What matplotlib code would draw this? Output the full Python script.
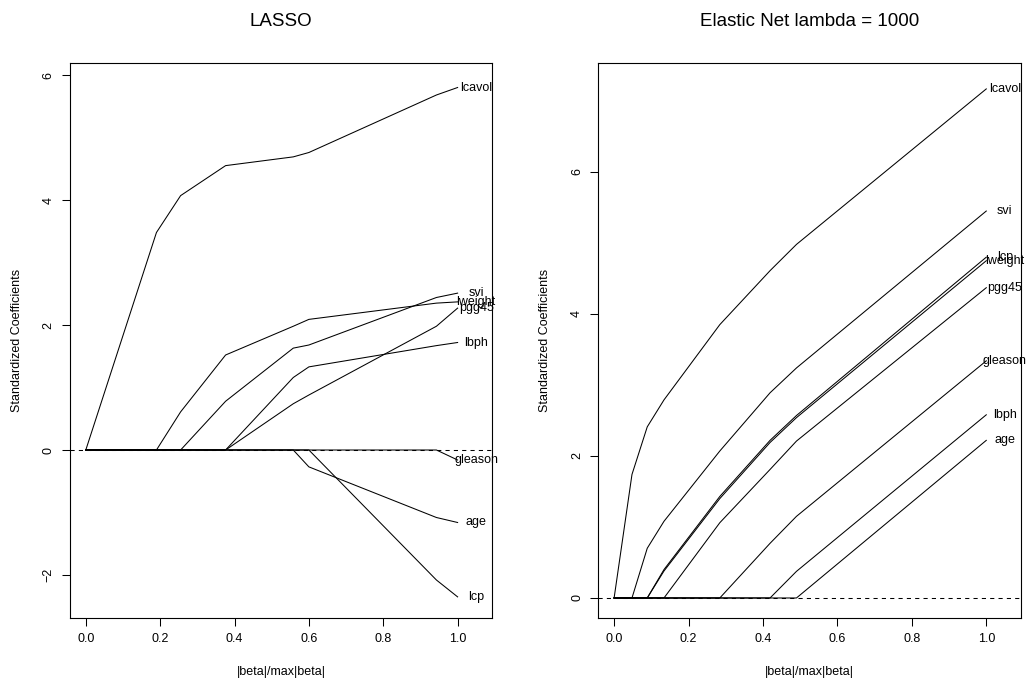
import matplotlib
matplotlib.use("Agg")
import matplotlib.pyplot as plt

plt.rcParams['font.family'] = ['Liberation Sans', 'DejaVu Sans']

# ---- LASSO path data ----
lasso_frac = [0.0, 0.19, 0.255, 0.376, 0.558, 0.600, 0.943, 1.0]
lasso_vars = ["lcavol", "lweight", "svi", "lbph", "pgg45", "gleason", "age", "lcp"]
lasso_lcavol = [0, 3.48, 4.07, 4.55, 4.69, 4.76, 5.68, 5.80]
lasso_lweight = [0, 0, 0.61, 1.52, 1.98, 2.09, 2.35, 2.37]
lasso_svi = [0, 0, 0, 0.78, 1.63, 1.68, 2.44, 2.51]
lasso_lbph = [0, 0, 0, 0, 1.16, 1.33, 1.67, 1.72]
lasso_pgg45 = [0, 0, 0, 0, 0.74, 0.88, 1.98, 2.27]
lasso_gleason = [0, 0, 0, 0, 0, 0, 0, -0.16]
lasso_age = [0, 0, 0, 0, 0, -0.27, -1.08, -1.16]
lasso_lcp = [0, 0, 0, 0, 0, 0, -2.08, -2.35]

# ---- Elastic net path data ----
enet_frac = [0.0, 0.048, 0.089, 0.134, 0.284, 0.419, 0.49, 1.0]
enet_vars = ["lcavol", "svi", "lcp", "lweight", "pgg45", "gleason", "lbph", "age"]
enet_lcavol = [0, 1.74, 2.41, 2.79, 3.85, 4.61, 4.98, 7.17]
enet_svi = [0, 0, 0.70, 1.08, 2.07, 2.89, 3.24, 5.45]
enet_lcp = [0, 0, 0, 0.40, 1.43, 2.22, 2.57, 4.80]
enet_lweight = [0, 0, 0, 0.38, 1.40, 2.19, 2.54, 4.75]
enet_pgg45 = [0, 0, 0, 0, 1.06, 1.81, 2.21, 4.37]
enet_gleason = [0, 0, 0, 0, 0, 0.77, 1.15, 3.34]
enet_lbph = [0, 0, 0, 0, 0, 0, 0.375, 2.58]
enet_age = [0, 0, 0, 0, 0, 0, 0, 2.22]

xticks = [0.0, 0.2, 0.4, 0.6, 0.8, 1.0]
xticklabels = ["0.0", "0.2", "0.4", "0.6", "0.8", "1.0"]

lasso_series = [lasso_lcavol, lasso_lweight, lasso_svi, lasso_lbph,
                lasso_pgg45, lasso_gleason, lasso_age, lasso_lcp]
enet_series = [enet_lcavol, enet_svi, enet_lcp, enet_lweight,
               enet_pgg45, enet_gleason, enet_lbph, enet_age]

W, H = 1026, 680
fig = plt.figure(figsize=(W / 100, H / 100), dpi=100)

FS = 9


def panel(rect, frac, names, series, title, yticks, ylim, ylabel_x):
    ax = fig.add_axes(rect)
    for vals in series:
        ax.plot(frac, vals, color='black', lw=0.75)
    ax.axhline(0, color='black', lw=0.75, linestyle=(0, (4, 4)))
    for name, vals in zip(names, series):
        ax.text(1.05, vals[-1], name, ha='center', va='center',
                fontsize=FS, clip_on=False)
    ax.set_xlim(-0.0425, 1.0925)
    ax.set_ylim(*ylim)
    ax.set_xticks(xticks)
    ax.set_xticklabels(xticklabels)
    ax.set_yticks(yticks)
    ax.set_yticklabels([str(t).replace('-', '\u2212') for t in yticks])
    ax.tick_params(axis='both', direction='out', length=6, width=0.75,
                   labelsize=FS, pad=5)
    ax.tick_params(axis='y', labelrotation=90)
    for lab in ax.get_yticklabels():
        lab.set_va('center')
    for s in ax.spines.values():
        s.set_linewidth(0.8)
    ax.text(0.5, 1 + 41 / 555, title, transform=ax.transAxes,
            ha='center', va='center', fontsize=13.5)
    ax.text(0.5, -54 / 555, "|beta|/max|beta|", transform=ax.transAxes,
            ha='center', va='center', fontsize=FS)
    fig.text(ylabel_x / W, 1 - 340.5 / H, "Standardized Coefficients",
             rotation=90, ha='center', va='center', fontsize=FS)
    return ax


bottom = 1 - 618 / H
height = (618 - 63) / H
panel([70 / W, bottom, (492 - 70) / W, height], lasso_frac, lasso_vars,
      lasso_series, "LASSO", [-2, 0, 2, 4, 6], (-2.688, 6.192), 17)
panel([598.3 / W, bottom, (1020.7 - 598.3) / W, height], enet_frac, enet_vars,
      enet_series, "Elastic Net lambda = 1000", [0, 2, 4, 6], (-0.282, 7.535), 545)

fig.savefig("out.png", dpi=100)
